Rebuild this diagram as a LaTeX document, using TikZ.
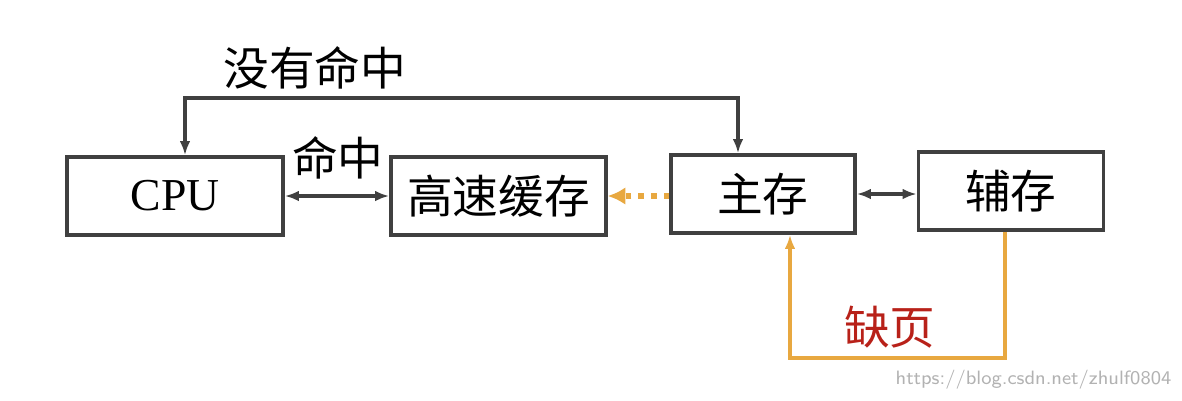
\documentclass[tikz,border=0pt]{standalone}
\usepackage{fontspec}
\setmainfont{Liberation Serif}
\newfontfamily\cjk{Noto Sans CJK SC}
\usetikzlibrary{arrows.meta,positioning,calc}
\definecolor{pageorange}{rgb}{0.91, 0.66, 0.25}
\definecolor{pagered}{rgb}{0.72, 0.13, 0.10}
\tikzset{
  membox/.style={draw=black!75, line width=1pt, minimum height=0.78cm, inner sep=0pt, font=\fontsize{13}{15}\selectfont},
  link/.style={draw=black!75, line width=0.9pt, {Latex[length=4pt,width=3pt]}-{Latex[length=4pt,width=3pt]}},
  tag/.style={font=\cjk\fontsize{13}{15}\selectfont}
}
\begin{document}
\begin{tikzpicture}
\useasboundingbox (0,0) rectangle (11.82,4);
\node (cpu) at (1.75,2.04) [membox, minimum width=2.16cm] {CPU};
\node (cache) at (4.985,2.04) [membox, minimum width=2.15cm] {\cjk 高速缓存};
\node (mem) at (7.63,2.06) [membox, minimum width=1.84cm] {\cjk 主存};
\node (aux) at (10.11,2.09) [membox, minimum width=1.85cm] {\cjk 辅存};
\coordinate (t1) at (1.85,3.02);
\coordinate (t2) at (7.38,3.02);
\coordinate (b1) at (10.05,0.42);
\coordinate (b2) at (7.9,0.42);
\draw[link] (cpu.east|-cache.west) -- (cache.west);
\draw[link] (mem.east) -- (aux.west|-mem.east);
\draw[link] (cpu.north-|t1) -- (t1) -- (t2) -- (mem.north-|t2);
\draw[pageorange, line width=1.6pt, dotted, -{Latex[length=5pt,width=5pt]}] (mem.west|-cache.east) -- (cache.east);
\draw[pageorange, line width=1pt, -{Latex[length=4pt,width=3pt]}] (aux.south-|b1) -- (b1) -- (b2) -- (mem.south-|b2);
\node[tag] (miss) at (3.15,3.32) {没有命中};
\node[tag] (hit) at (3.38,2.42) {命中};
\node[tag, text=pagered] (fault) at (8.9,0.73) {缺页};
\node[font=\sffamily\fontsize{5.5}{6}\selectfont, text=black!30, anchor=east, inner sep=0pt] (wm) at (11.72,0.2) {https://blog.csdn.net/zhulf0804};
\end{tikzpicture}
\end{document}
